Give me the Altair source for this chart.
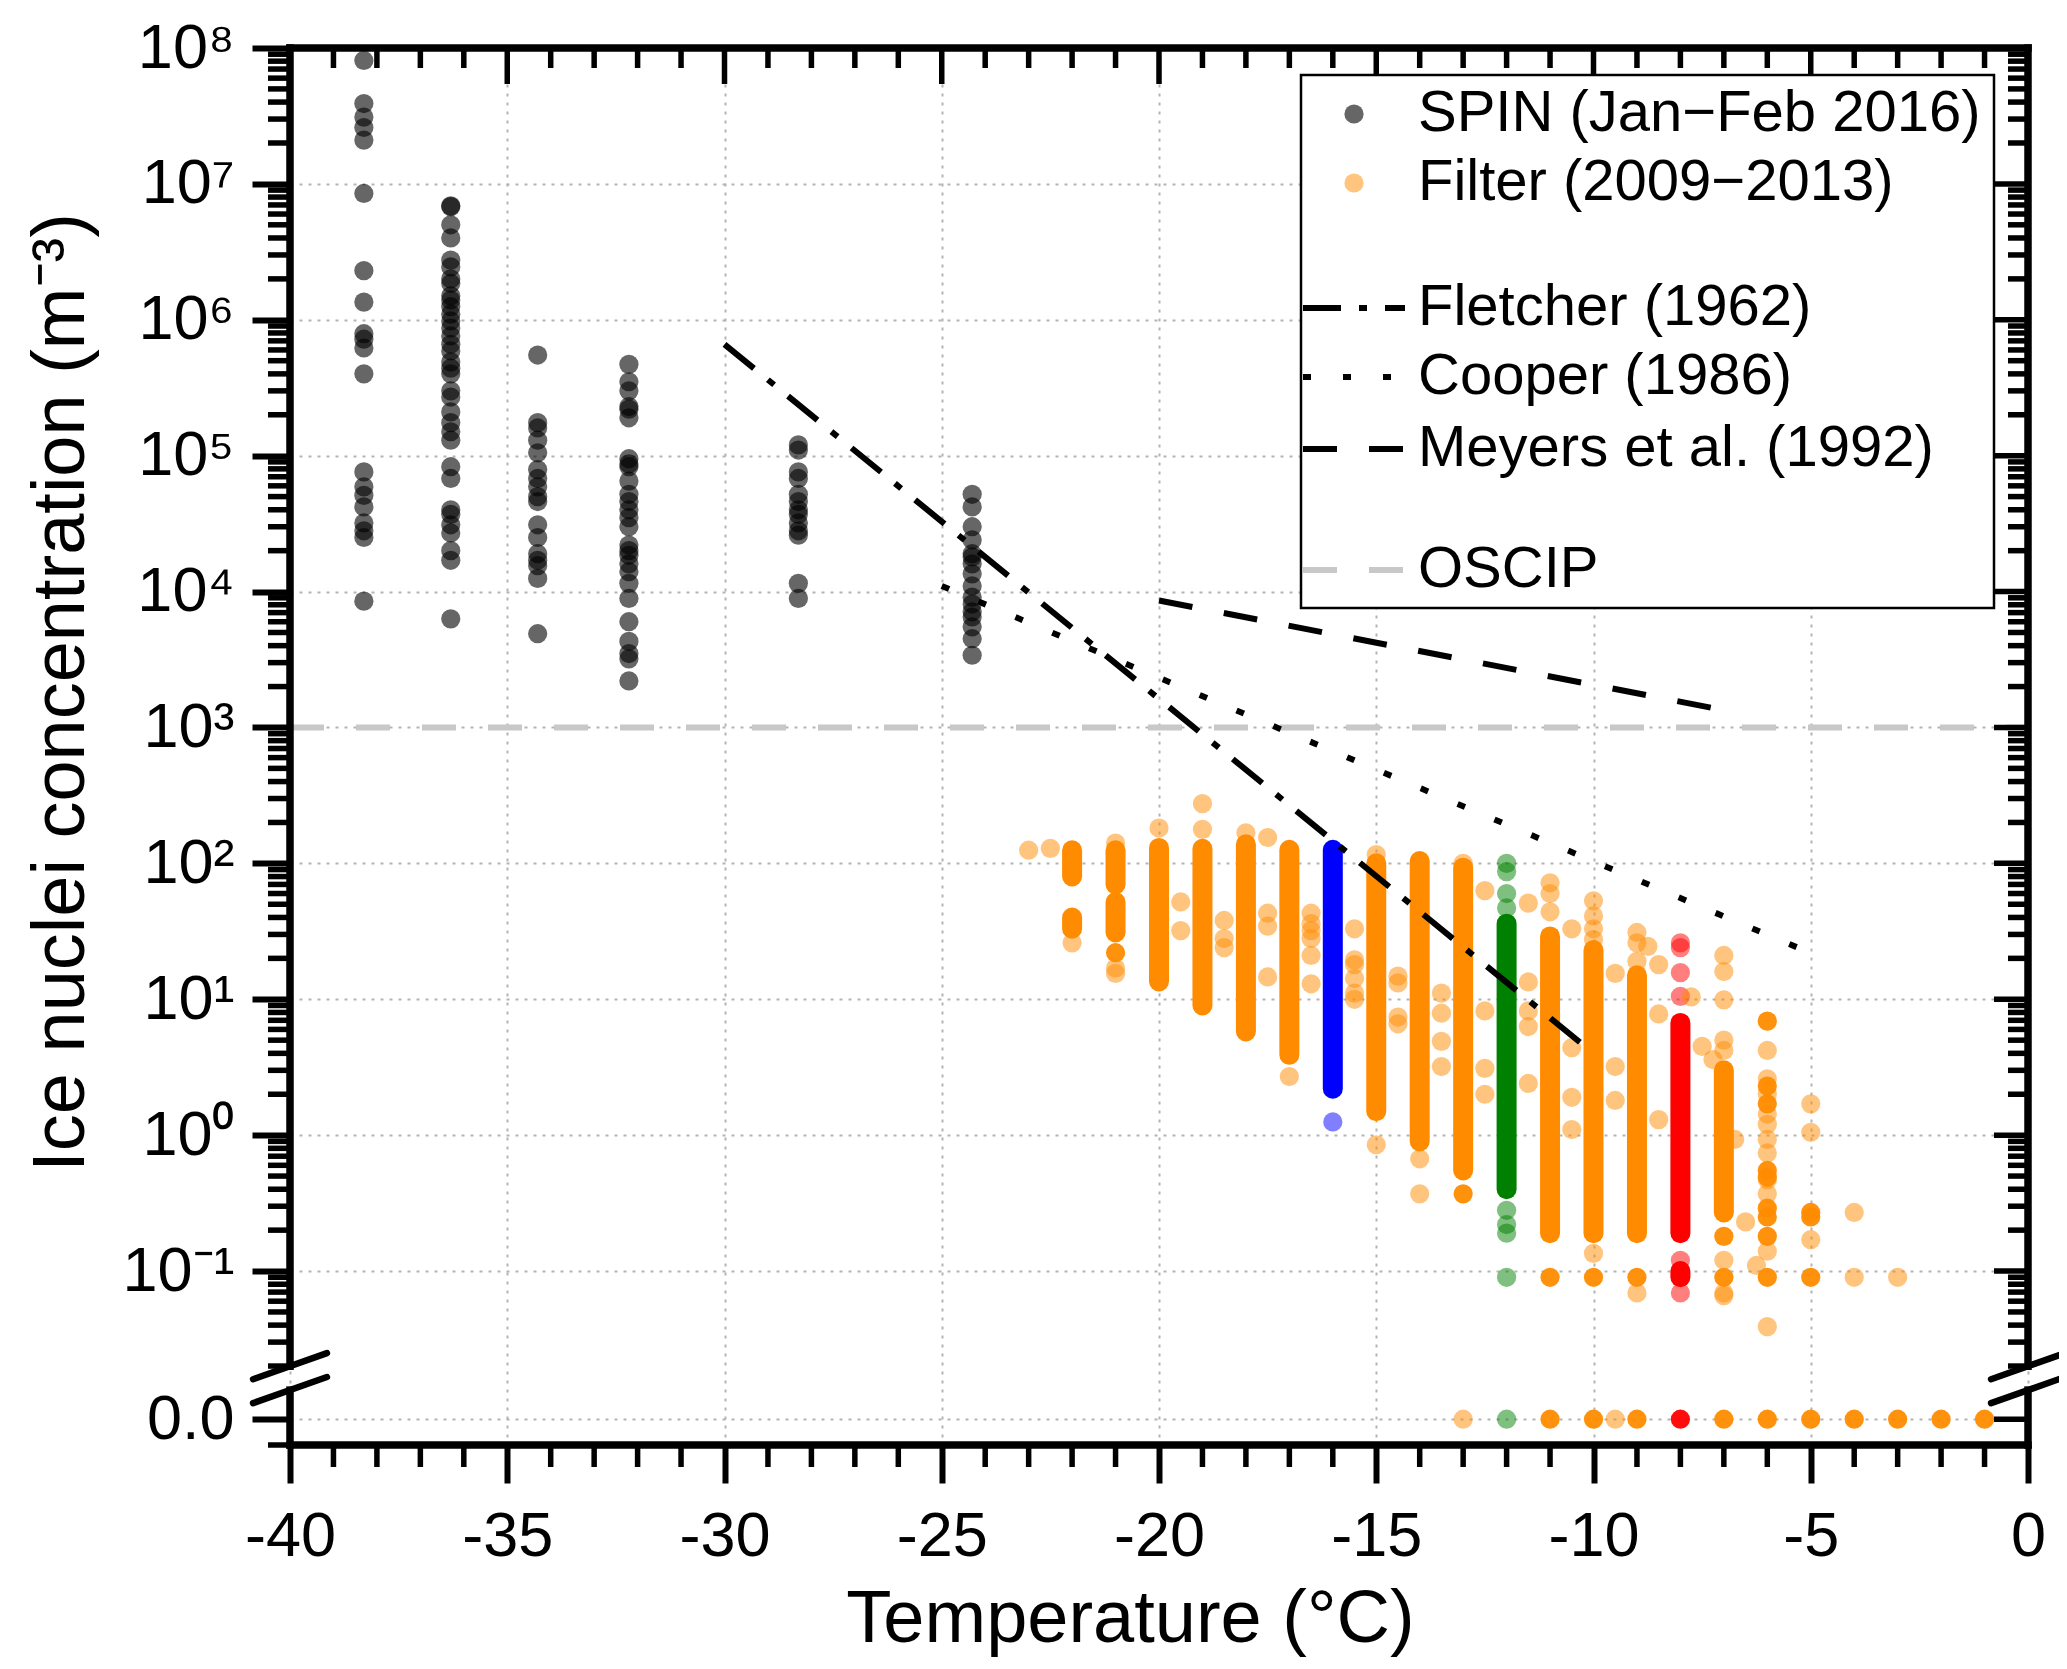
import numpy as np
import pandas as pd
import altair as alt

FONT = "Liberation Sans"

# ---------------------------------------------------------------- data (m-3)
# SPIN (Jan-Feb 2016): one column of points per scan temperature
SPIN_TEMPS = [-38.3, -36.3, -34.3, -32.2, -28.3, -24.3]
SPIN_N = [
    [8.1e7, 3.9e7, 3.1e7, 2.6e7, 2.1e7, 8.5e6, 2.3e6, 1.35e6, 7.9e5, 7.2e5,
     6.2e5, 4.0e5, 7.6e4, 5.9e4, 5.1e4, 4.2e4, 3.2e4, 2.8e4, 2.5e4, 8.5e3],
    [6.9e6, 6.8e6, 5.0e6, 4.0e6, 2.75e6, 2.45e6, 2.0e6, 1.85e6, 1.5e6, 1.4e6,
     1.25e6, 1.1e6, 9.8e5, 8.7e5, 7.6e5, 6.6e5, 5.9e5, 4.9e5, 4.4e5, 4.0e5,
     3.0e5, 2.7e5, 2.1e5, 1.75e5, 1.5e5, 1.3e5, 8.3e4, 6.8e4, 4.0e4, 3.7e4,
     3.1e4, 2.7e4, 2.0e4, 1.7e4, 6.3e3],
    [5.5e5, 1.75e5, 1.6e5, 1.3e5, 1.05e5, 7.9e4, 6.8e4, 5.9e4, 5.0e4, 4.6e4,
     3.1e4, 2.5e4, 1.9e4, 1.7e4, 1.55e4, 1.25e4, 4.9e3],
    [4.7e5, 3.5e5, 3.0e5, 2.3e5, 2.2e5, 1.9e5, 9.5e4, 8.7e4, 8.3e4, 6.5e4,
     5.2e4, 4.6e4, 4.0e4, 3.5e4, 3.0e4, 2.2e4, 2.0e4, 1.85e4, 1.6e4, 1.4e4,
     1.15e4, 8.9e3, 6.0e3, 4.3e3, 3.5e3, 3.2e3, 2.2e3],
    [1.2e5, 1.1e5, 7.6e4, 6.8e4, 5.2e4, 4.6e4, 4.0e4, 3.7e4, 3.2e4, 2.8e4,
     2.6e4, 1.15e4, 8.9e3],
    [5.2e4, 4.2e4, 3.0e4, 2.4e4, 1.9e4, 1.8e4, 1.6e4, 1.35e4, 1.1e4, 9.1e3,
     8.1e3, 7.1e3, 6.5e3, 5.5e3, 4.5e3, 3.4e3],
]

# Filter (2009-2013): isolated samples (pale, single points)
FAINT_T = [-23, -22.5, -22, -22, -21, -21, -21, -20, -19.5, -19.5,
           -19, -19, -18.5, -18.5, -18.5, -18, -17.5, -17.5, -17.5, -17.5,
           -17, -16.5, -16.5, -16.5, -16.5, -16.5, -16.5, -16, -15.5, -15.5,
           -15.5, -15.5, -15.5, -15.5, -15, -15, -14.5, -14.5, -14.5, -14.5,
           -14, -14, -13.5, -13.5, -13.5, -13.5, -13, -13, -12.5, -12.5,
           -12.5, -12.5, -12, -12, -12, -12, -12, -12, -12, -12,
           -12, -11.5, -11.5, -11.5, -11.5, -11.5, -11, -11, -11, -10.5,
           -10.5, -10.5, -10.5, -10, -10, -10, -10, -10, -9.5, -9.5,
           -9.5, -9.5, -9, -9, -9, -9, -8.75, -8.5, -8.5, -8.5,
           -8, -8, -8, -8, -8, -8, -7.75, -7.5, -7.25, -7,
           -7, -7, -7, -7, -7, -7, -7, -6.75, -6.5, -6.25,
           -6, -6, -6, -6, -6, -6, -6, -6, -6, -6,
           -6, -5, -5, -5, -4, -4, -3]
FAINT_N = [125, 129, 90, 26, 141, 17, 15.5, 182, 52, 32,
           275, 178, 38, 28, 24, 168, 155, 43, 34.5, 14.6,
           2.7, 43, 36, 32, 28, 21, 13, 1.25, 33, 19.5,
           18, 14.2, 11.1, 10, 116, 0.85, 14.8, 13.2, 7.4, 6.6,
           0.67, 0.37, 11.1, 7.9, 4.9, 3.2, 100, 0, 63, 8.2,
           3.1, 2.0, 100, 87, 60, 47, 0.28, 0.22, 0.19, 0.09,
           0, 51, 13.4, 8.2, 6.3, 2.4, 72, 60, 44, 33,
           4.4, 1.9, 1.1, 53, 41, 33, 27.5, 0.135, 15.5, 3.2,
           1.8, 0, 31, 26, 19, 0.069, 24.5, 18, 7.8, 1.3,
           26, 24, 15.7, 10.5, 0.12, 0.069, 10.4, 4.5, 3.6, 21,
           16, 9.9, 5.0, 4.2, 0.12, 0.069, 0.066, 0.93, 0.23, 0.11,
           4.2, 2.6, 2.0, 1.43, 1.2, 0.93, 0.74, 0.37, 0.47, 0.14,
           0.039, 1.7, 1.05, 0.17, 0.27, 0.09, 0.09]

# Filter: repeated samples that pile up into saturated dots
SOLID_T = [-21, -13, -11, -11, -10, -10, -9, -9, -8, -7,
           -7, -7, -6, -6, -6, -6, -6, -6, -6, -6,
           -6, -6, -5, -5, -5, -5, -4, -3, -2, -1]
SOLID_N = [22, 0.37, 0.09, 0, 0.09, 0, 0.09, 0, 0, 0.09,
           0.18, 0, 6.9, 2.3, 1.7, 0.55, 0.49, 0.29, 0.25, 0.18,
           0.09, 0, 0.27, 0.25, 0.09, 0, 0, 0, 0, 0]

# Filter: continuous runs of overlapping samples (lowest, highest)
BAND_T = [-22, -22, -21, -21, -20, -19, -18, -17, -16, -15,
          -14, -13, -12, -11, -10, -9, -8, -8, -7]
BAND_LO = [80, 33, 70, 31, 13.5, 9.0, 5.8, 3.9, 2.2, 1.5,
           0.9, 0.55, 0.40, 0.19, 0.19, 0.19, 0.19, 0.09, 0.27]
BAND_HI = [125, 40, 125, 52, 130, 128, 138, 126, 126, 100,
           104, 93, 36, 29, 23, 15, 6.7, 0.1, 3.0]

# temperatures picked out in colour
HIGHLIGHT = {-16: "blue", -12: "green", -8: "red"}
GROUP_COLORS = {"orange": "#ff8c00", "blue": "#0000ff",
                "green": "#008000", "red": "#ff0000"}

# parameterisations (straight on the log axis, so end points only)
FLETCHER_T, FLETCHER_N = [-30, -10], [6.6e5, 4.0]
COOPER_T, COOPER_N = [-25, -5.3], [1.1e4, 24]
MEYERS_T, MEYERS_N = [-20, -7.2], [8.6e3, 1.38e3]
OSCIP_T, OSCIP_N = [-40, 0], [1e3, 1e3]

LEGEND_LABELS = ["SPIN (Jan\u2212Feb 2016)", "Filter (2009\u22122013)",
                 "Fletcher (1962)", "Cooper (1986)",
                 "Meyers et al. (1992)", "OSCIP"]

X_MAJOR = list(range(-40, 1, 5))
X_MINOR = [t for t in range(-39, 0) if t % 5]
Y_DECADES = list(range(8, -2, -1))
SUPER = {8: "\u2078", 7: "\u2077", 6: "\u2076", 5: "\u2075", 4: "\u2074",
         3: "\u00b3", 2: "\u00b2", 1: "\u00b9", 0: "\u2070", -1: "\u207b\u00b9"}

# ---------------------------------------------------------------- layout
W, H = 1738, 1397
Y_MIN, Y_MAX = -2.28, 8.0
ZERO_POS = -2.09            # where the 0.0 row sits, below the break
BREAK_HI, BREAK_LO = -1.70, -1.876
BRK_DX, BRK_DY = 0.85, 0.096
DOT = 370


def to_pos(values):
    v = np.asarray(values, dtype=float)
    return np.where(v > 0, np.log10(np.where(v > 0, v, 1.0)), ZERO_POS)


def grp(ts):
    return [HIGHLIGHT.get(t, "orange") for t in ts]


common = dict(grid=True, gridColor="#b4b4b4", gridDash=[3, 6], gridWidth=2,
              domain=False, tickColor="black", tickWidth=6, tickSize=38,
              labelFont=FONT, labelColor="black", labelFlush=False,
              labelOverlap=False, titleFont=FONT, titleFontSize=74,
              titleFontWeight="normal", titleColor="black")

x_axis = alt.Axis(values=X_MAJOR, title="Temperature (\u00b0C)",
                  labelExpr="datum.value < 0 ? '-' + abs(datum.value) : '0'",
                  labelFontSize=63, labelPadding=22,
                  titleX=840, titleY=174, titleAlign="center",
                  titleBaseline="middle", **common)

y_label = " : ".join(f"datum.value == {k} ? '10{SUPER[k]}'" for k in Y_DECADES)
y_axis = alt.Axis(values=Y_DECADES + [ZERO_POS],
                  title="Ice nuclei concentration (m\u207b\u00b3)",
                  labelExpr=y_label + " : '0.0'",
                  labelFontSize=63, labelPadding=18, labelBaseline="middle",
                  titleAngle=270, titleX=-229, titleY=644, titleAlign="center",
                  titleBaseline="middle", **common)

x_scale = alt.Scale(domain=[-40, 0], nice=False, zero=False)
y_scale = alt.Scale(domain=[Y_MIN, Y_MAX], nice=False, zero=False)
color = alt.Color("grp:N", legend=None,
                  scale=alt.Scale(domain=list(GROUP_COLORS),
                                  range=list(GROUP_COLORS.values())))


# every layer shares the same scale and the same axis definition
def X(f):
    return alt.X(f, type="quantitative", scale=x_scale, axis=x_axis)


def Y(f):
    return alt.Y(f, type="quantitative", scale=y_scale, axis=y_axis)


# ---------------------------------------------------------------- frames
spin_df = pd.DataFrame([(t, n) for t, col in zip(SPIN_TEMPS, SPIN_N) for n in col],
                       columns=["t", "n"])
spin_df["pos"] = to_pos(spin_df["n"])

faint_df = pd.DataFrame({"t": FAINT_T, "pos": to_pos(FAINT_N), "grp": grp(FAINT_T)})
solid_df = pd.DataFrame({"t": SOLID_T, "pos": to_pos(SOLID_N), "grp": grp(SOLID_T)})
band_df = pd.DataFrame({"t": BAND_T, "lo": to_pos(BAND_LO), "hi": to_pos(BAND_HI),
                        "grp": grp(BAND_T)})

layers = []

layers.append(alt.Chart(band_df).mark_rule(strokeWidth=20, strokeCap="round").encode(
    x=X("t"), y=Y("lo"), y2=alt.Y2("hi"), color=color))
layers.append(alt.Chart(faint_df).mark_circle(size=DOT, opacity=0.5).encode(
    x=X("t"), y=Y("pos"), color=color))
layers.append(alt.Chart(solid_df).mark_circle(size=DOT, opacity=0.95).encode(
    x=X("t"), y=Y("pos"), color=color))
layers.append(alt.Chart(spin_df).mark_circle(size=DOT, opacity=0.6, color="black").encode(
    x=X("t"), y=Y("pos")))


def model_line(ts, ns, dash, col="black"):
    df = pd.DataFrame({"t": ts, "pos": to_pos(ns)})
    return alt.Chart(df).mark_line(color=col, strokeWidth=6, strokeDash=dash).encode(
        x=X("t"), y=Y("pos"))


layers.append(model_line(OSCIP_T, OSCIP_N, [34, 32], "#c8c8c8"))
layers.append(model_line(FLETCHER_T, FLETCHER_N, [38, 18, 8, 18]))
layers.append(model_line(COOPER_T, COOPER_N, [8, 32]))
layers.append(model_line(MEYERS_T, MEYERS_N, [34, 32]))

# axis frame with a break on both vertical sides
frame_df = pd.DataFrame({
    "t":  [-40, -40, 0, 0, -40, -40],
    "t2": [-40, -40, 0, 0, 0, 0],
    "p":  [Y_MIN, BREAK_HI, Y_MIN, BREAK_HI, Y_MAX, Y_MIN],
    "p2": [BREAK_LO, Y_MAX, BREAK_LO, Y_MAX, Y_MAX, Y_MIN],
})
layers.append(alt.Chart(frame_df).mark_rule(color="black", strokeWidth=7.5,
                                            strokeCap="square").encode(
    x=X("t"), x2=alt.X2("t2"), y=Y("p"), y2=alt.Y2("p2")))

brk = []
for xe in (-40, 0):
    for yb in (BREAK_HI, BREAK_LO):
        brk.append((xe - BRK_DX, xe + BRK_DX, yb - BRK_DY, yb + BRK_DY))
brk_df = pd.DataFrame(brk, columns=["t", "t2", "p", "p2"])
layers.append(alt.Chart(brk_df).mark_rule(color="black", strokeWidth=6.5,
                                          strokeCap="round").encode(
    x=X("t"), x2=alt.X2("t2"), y=Y("p"), y2=alt.Y2("p2")))

# ticks: minor outside (bottom, left), mirrored inside (top, right)
y_minor = [k + np.log10(m) for k in range(-2, 8) for m in range(2, 10)]
y_minor = [p for p in y_minor if BREAK_HI - 0.01 < p < Y_MAX] + [Y_MIN]
y_major = Y_DECADES + [ZERO_POS]


def hticks(vals, x0, x1):
    return alt.Chart(pd.DataFrame({"p": vals})).mark_rule(color="black", strokeWidth=5.5).encode(
        y=Y("p"), x=alt.value(x0), x2=alt.value(x1))


def vticks(vals, y0, y1):
    return alt.Chart(pd.DataFrame({"t": vals})).mark_rule(color="black", strokeWidth=5.5).encode(
        x=X("t"), y=alt.value(y0), y2=alt.value(y1))


layers += [
    hticks(y_minor, -22, 0),
    hticks(y_minor[:-1], W - 20, W),
    hticks(y_major, W - 34, W),
    vticks(X_MINOR, H, H + 22),
    vticks(X_MINOR, 0, 20),
    vticks(X_MAJOR[1:-1], 0, 36),
]

# legend box
ONE = pd.DataFrame({"k": [0]})
LX0, LX1, LY0, LY1 = 1011, 1704, 27, 560
ROW_Y = [66, 135, 260, 329, 401, 522]
SYM_X, LINE_X0, LINE_X1, TEXT_X = 1064, 1013, 1115, 1128

layers.append(alt.Chart(ONE).mark_rect(fill="white", stroke="black", strokeWidth=2.5).encode(
    x=alt.value(LX0), x2=alt.value(LX1), y=alt.value(LY0), y2=alt.value(LY1)))
layers.append(alt.Chart(ONE).mark_circle(size=DOT, color="black", opacity=0.6).encode(
    x=alt.value(SYM_X), y=alt.value(ROW_Y[0])))
layers.append(alt.Chart(ONE).mark_circle(size=DOT, color=GROUP_COLORS["orange"], opacity=0.5).encode(
    x=alt.value(SYM_X), y=alt.value(ROW_Y[1])))
for row, dash, col in [(2, [38, 18, 8, 18], "black"), (3, [8, 32], "black"),
                       (4, [34, 32], "black"), (5, [34, 32], "#c8c8c8")]:
    layers.append(alt.Chart(ONE).mark_rule(color=col, strokeWidth=6, strokeDash=dash).encode(
        x=alt.value(LINE_X0), x2=alt.value(LINE_X1), y=alt.value(ROW_Y[row])))
for label, yy in zip(LEGEND_LABELS, ROW_Y):
    layers.append(alt.Chart(ONE).mark_text(text=label, font=FONT, fontSize=58, align="left",
                                           baseline="middle", color="black").encode(
        x=alt.value(TEXT_X), y=alt.value(yy)))

chart = alt.layer(*layers).properties(
    width=W, height=H,
    autosize=alt.AutoSizeParams(type="none"),
    padding={"left": 282, "top": 40, "right": 31, "bottom": 216},
    background="white",
).configure_view(stroke=None)

chart.save("out.html", embed_options={"renderer": "svg", "actions": False})
